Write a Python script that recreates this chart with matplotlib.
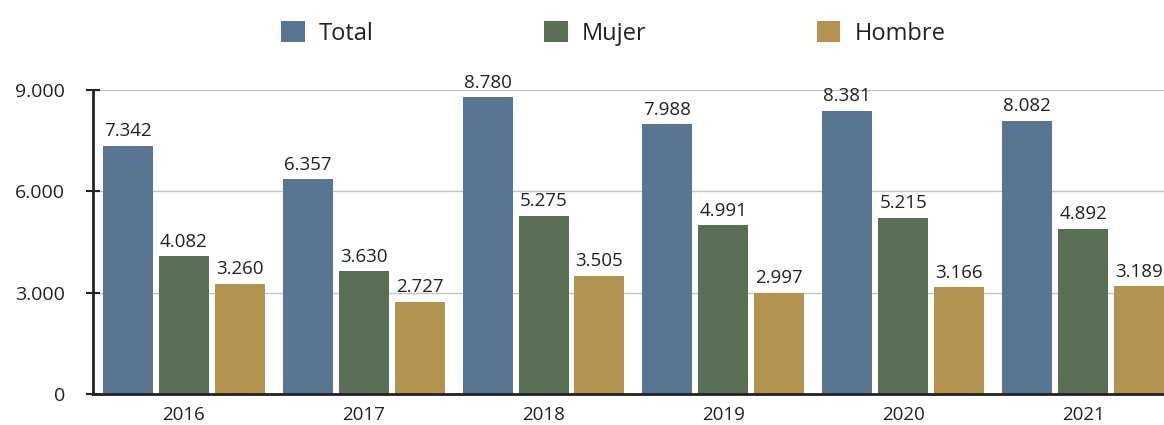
import numpy as np
import matplotlib.pyplot as plt
from matplotlib.ticker import FuncFormatter

# Data
years = ['2016', '2017', '2018', '2019', '2020', '2021']
total = [7342, 6357, 8780, 7988, 8381, 8082]
mujer = [4082, 3630, 5275, 4991, 5215, 4892]
hombre = [3260, 2727, 3505, 2997, 3166, 3189]

series_names = ['Total', 'Mujer', 'Hombre']
colors = ['#587691', '#586f53', '#b3944f']

plt.rcParams['font.family'] = ['Open Sans', 'DejaVu Sans']

fig = plt.figure(figsize=(11.64, 4.25), dpi=100)
ax = fig.add_axes([93 / 1164, 31 / 425, 1 - 93 / 1164, 304 / 425])

x = np.arange(len(years))
offset = 0.311
width = 0.278


def fmt(v):
    return f'{int(v):,}'.replace(',', '.')


for i, (vals, name, c) in enumerate(zip([total, mujer, hombre], series_names, colors)):
    xs = x + (i - 1) * offset
    bars = ax.bar(xs, vals, width, color=c, label=name, zorder=3)
    for rect, v in zip(bars, vals):
        ax.annotate(fmt(v), xy=(rect.get_x() + rect.get_width() / 2, v),
                    xytext=(0, 4), textcoords='offset points',
                    ha='center', va='bottom', fontsize=13.5, color='#222222',
                    annotation_clip=False)

ax.set_xlim(-0.505, 5.45)
ax.set_ylim(0, 9000)
ax.set_yticks([0, 3000, 6000, 9000])
ax.yaxis.set_major_formatter(FuncFormatter(lambda v, p: fmt(v)))
ax.set_xticks(x)
ax.set_xticklabels(years)

ax.grid(axis='y', color='#c4c4c4', linewidth=1, zorder=0)
ax.set_axisbelow(True)
for s in ['top', 'right']:
    ax.spines[s].set_visible(False)
for s in ['left', 'bottom']:
    ax.spines[s].set_color('#222222')
    ax.spines[s].set_linewidth(2)
    ax.spines[s].set_zorder(4)

ax.tick_params(axis='y', direction='inout', length=10, width=1.5, color='#222222',
               labelsize=14, labelcolor='#222222', pad=15)
ax.tick_params(axis='x', length=0, labelsize=13.5, labelcolor='#222222', pad=9)

fig.legend(loc='upper center', bbox_to_anchor=(0.527, 1.0), ncol=3, frameon=False,
           fontsize=17, handlelength=1.0, handleheight=1.0, handletextpad=0.6,
           columnspacing=7.2, labelcolor='#222222')

fig.savefig('out.png', dpi=100)
